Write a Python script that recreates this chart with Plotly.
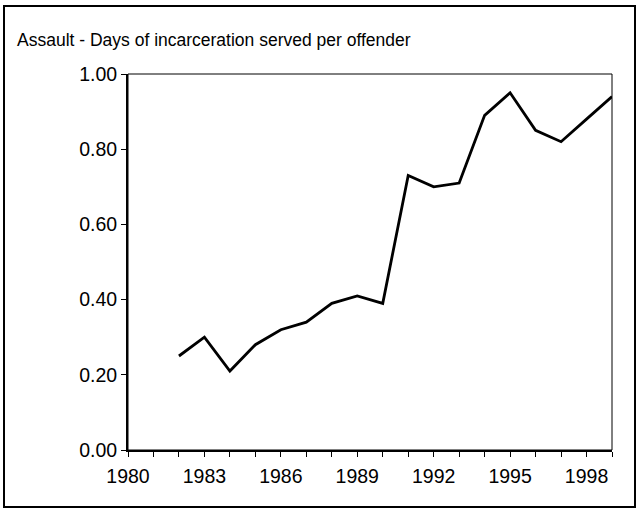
import plotly.graph_objects as go

years = [1982, 1983, 1984, 1985, 1986, 1987, 1988, 1989, 1990, 1991,
         1992, 1993, 1994, 1995, 1996, 1997, 1998, 1999]
days_per_offender = [0.25, 0.30, 0.21, 0.28, 0.32, 0.34, 0.39, 0.41, 0.39, 0.73,
                     0.70, 0.71, 0.89, 0.95, 0.85, 0.82, 0.88, 0.94]
x_tick_vals = [1980, 1983, 1986, 1989, 1992, 1995, 1998]
x_tick_text = ["1980", "1983", "1986", "1989", "1992", "1995", "1998"]
y_tick_vals = [0.0, 0.2, 0.4, 0.6, 0.8, 1.0]
y_tick_text = ["0.00", "0.20", "0.40", "0.60", "0.80", "1.00"]
title_text = "Assault - Days of incarceration served per offender"

W, H = 637, 508
L, R, T, B = 128, 25, 74, 58
pw, ph = W - L - R, H - T - B

fig = go.Figure()
fig.add_trace(go.Scatter(
    x=years, y=days_per_offender, mode="lines",
    line=dict(color="black", width=2.8), showlegend=False,
))

font = "Liberation Sans, Arial, Helvetica, sans-serif"

fig.update_layout(
    width=W, height=H,
    margin=dict(l=L, r=R, t=T, b=B),
    paper_bgcolor="white", plot_bgcolor="white",
    font=dict(family=font, color="black", size=18),
    title=dict(text=title_text, x=17 / W, xanchor="left", xref="container",
               y=1 - 40 / H, yanchor="middle", yref="container",
               font=dict(family=font, size=17.5, color="black")),
    xaxis=dict(range=[1980, 1999], tickvals=x_tick_vals, ticktext=x_tick_text,
               ticks="outside", ticklen=5, tickwidth=1, tickcolor="black",
               minor=dict(dtick=1, tick0=1980, ticks="outside", ticklen=5,
                          tickwidth=1, tickcolor="black"),
               showline=True, linewidth=2, linecolor="black",
               showgrid=False, zeroline=False, ticklabelstandoff=3,
               tickfont=dict(size=19.5)),
    yaxis=dict(range=[0, 1], tickvals=y_tick_vals, ticktext=y_tick_text,
               ticks="outside", ticklen=5, tickwidth=1, tickcolor="black",
               showline=True, linewidth=2, linecolor="black",
               showgrid=False, zeroline=False,
               tickfont=dict(size=19.5)),
)

# thin plot frame (top/right)
fig.add_shape(type="rect", xref="paper", yref="paper", x0=0, x1=1, y0=0, y1=1,
              line=dict(color="black", width=1), layer="above")
# outer border
fig.add_shape(type="rect", xref="paper", yref="paper",
              x0=(4 - L) / pw, x1=(635 - L) / pw,
              y0=((H - B) - 507) / ph, y1=((H - B) - 6) / ph,
              line=dict(color="black", width=2))

fig.write_html("out.html", config={"displayModeBar": False},
               post_script="document.body.style.margin='0';document.body.style.overflow='hidden';")
